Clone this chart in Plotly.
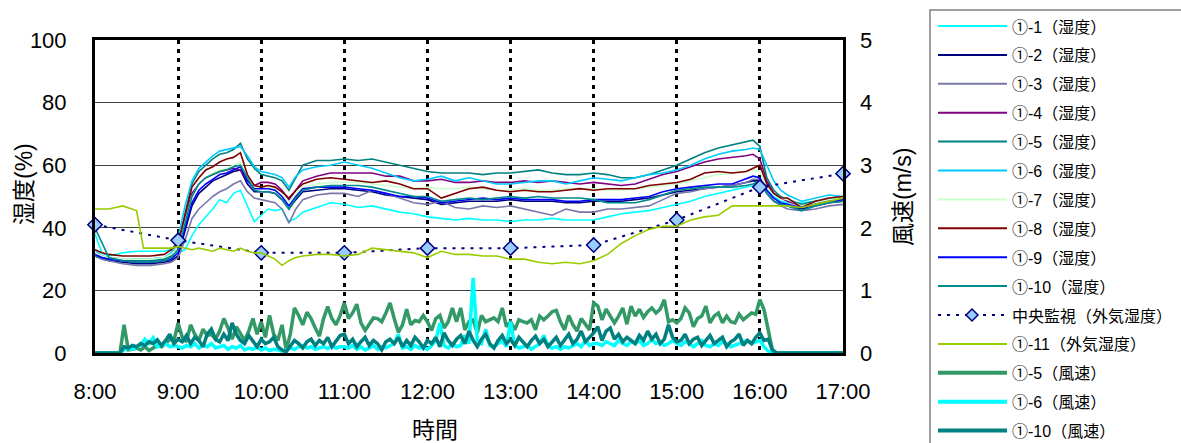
import plotly.graph_objects as go

# ---------------------------------------------------------------- data
TIME = [
    "8:00", "8:05", "8:10", "8:20", "8:30", "8:35", "8:40", "8:50", "8:55",
    "9:00", "9:05", "9:10", "9:15", "9:20", "9:25", "9:30", "9:35", "9:40", "9:45", "9:50", "9:55",
    "10:00", "10:05", "10:10", "10:15", "10:20", "10:25", "10:30", "10:40", "10:50",
    "11:00", "11:10", "11:20", "11:30", "11:40", "11:50",
    "12:00", "12:10", "12:20", "12:30", "12:40", "12:50",
    "13:00", "13:10", "13:20", "13:30", "13:40", "13:50",
    "14:00", "14:10", "14:20", "14:30", "14:40", "14:50",
    "15:00", "15:10", "15:20", "15:30", "15:40", "15:50",
    "15:55", "16:00", "16:05", "16:10", "16:15", "16:20", "16:30", "16:40", "16:50", "17:00",
]

H_1 = [38, 32, 31, 32, 32.5, 32.5, 32.5, 32.5, 33,
       32, 33, 37.5, 41, 43.5, 46, 49, 48, 51, 52, 47, 42,
       44, 46, 45.5, 46, 42, 43, 45, 46.5, 48,
       47.5, 46.5, 47, 46, 45, 44.5,
       43.5, 43, 42.5, 43, 42.5, 42.5,
       42, 42.5, 42.5, 43, 42.5, 42.5,
       42.5, 43.5, 44.5, 45, 45.5, 46.5,
       47.5, 48.5, 50, 51, 52, 53,
       53.5, 54, 52.5, 50, 48.5, 48, 48, 48.5, 49.5, 50]
H_2 = [31, 30, 29.5, 29, 28.5, 28.5, 28.5, 29, 29.5,
       31, 39, 47, 51, 53, 55, 56, 57, 58, 58.5, 54, 51.5,
       51.5, 51.5, 51, 49, 46, 49, 51.5, 52, 52.5,
       52.5, 52, 51.5, 50.5, 50, 49.5,
       49, 47.5, 48, 48.5, 48.5, 48.5,
       49, 48.5, 48.5, 48.5, 48, 48,
       48.5, 48.5, 48.5, 49, 49.5, 50.5,
       51.5, 52, 52.5, 53, 53.5, 54.5,
       55, 55, 51, 48.5, 47.5, 47, 46, 47, 48, 48.5]
H_3 = [31, 30, 29.5, 28.5, 28, 28, 28, 28.5, 29,
       30.5, 36, 43, 46, 48, 50, 51.5, 52.5, 54, 55, 51.5, 49.5,
       49, 48.5, 48, 46, 41.5, 46, 49, 50.5, 51,
       51, 50, 52, 51, 49.5, 48,
       47.5, 48.5, 46.5, 46, 47, 46.5,
       47, 46, 45, 44, 46, 45,
       45, 46, 46, 46.5, 47, 49,
       51, 51.5, 52.5, 53, 53.5, 54.5,
       55.5, 55.5, 51, 48.5, 47, 46, 45.5, 46, 47, 47.5]
H_4 = [32, 31, 30.5, 30, 30, 30, 30, 30.5, 31.5,
       34, 43, 51, 54, 56, 57, 58, 58.5, 59, 58.5, 55, 53.5,
       54.5, 54.5, 54, 52, 49, 52, 55, 56.5, 57.5,
       57.5, 57.5, 57.5, 56.5, 56.5, 55,
       55, 55.5, 54.5, 54.5, 55, 54.5,
       54.5, 55, 54.5, 55, 54.5, 54,
       54.5, 54, 53.5, 54, 55.5, 57,
       58, 59.5, 61, 62, 62.5, 63,
       63.5, 62, 55, 51, 49.5, 48.5, 47, 48, 48.5, 49]
H_5 = [31, 30.5, 30, 29.5, 29.5, 29.5, 29.5, 30, 31,
       35, 45, 54, 58, 60, 62, 63.5, 64, 65, 67, 62, 59,
       57, 56.5, 56, 55, 52, 56, 60, 61.5, 61.5,
       62, 61.5, 62, 61, 60, 59,
       58, 57.5, 57.5, 57.5, 57, 57.5,
       57.5, 58, 58.5, 57.5, 57, 57,
       57.5, 57, 56, 56, 57, 58.5,
       60, 62, 64, 65.5, 66.5, 67.5,
       68, 66, 56, 52, 50, 49, 47.5, 48.5, 49, 49.5]
H_6 = [33, 31, 30, 30, 30, 30, 30, 30.5, 32,
       37, 47, 55, 59, 61, 63, 64.5, 65, 65.5, 66, 63, 59.5,
       58, 57.5, 57, 56, 53, 56.5, 58.5, 59.5, 60,
       61, 60, 59, 57.5, 56, 55,
       55.5, 56.5, 55, 56, 55, 54,
       54, 54.5, 55, 55, 54, 55,
       56, 55.5, 55, 56, 57, 57.5,
       58.5, 60, 62, 63.5, 64.5, 65,
       65.5, 65, 60, 55, 52, 50.5, 48.5, 49.5, 50.5, 50]
H_7 = [32, 31, 30.5, 30, 30, 30, 30, 30.5, 31.5,
       34, 42, 50, 54, 56, 57.5, 58.5, 59, 60, 61, 56, 53,
       52.5, 53, 52.5, 51, 48, 51, 53, 54, 54.5,
       54.5, 54.5, 54, 53.5, 53, 52.5,
       53, 52.5, 52.5, 53, 52.5, 52,
       52, 52.5, 52, 52, 52.5, 52.5,
       52.5, 52, 52, 52.5, 53, 53.5,
       54, 55, 56, 57, 57.5, 58,
       58.5, 58, 53, 50.5, 49.5, 49, 47, 48, 49, 49.5]
H_8 = [33, 32, 31.5, 31, 31, 31, 31, 31.5, 33,
       35, 44, 53, 56, 58.5, 59.5, 61, 62, 62.5, 64, 57, 53.5,
       53, 53.5, 53, 51.5, 49.5, 52, 54, 55.5, 56,
       55.5, 55, 54.5, 55, 54, 52.5,
       52.5, 49.5, 51, 52.5, 53, 52,
       51.5, 52, 51.5, 51.5, 52, 52.5,
       52, 52.5, 52.5, 52.5, 53.5, 54,
       54.5, 55.5, 57.5, 58, 57.5, 58,
       59, 60, 54, 51, 49.5, 49.5, 46.5, 48.5, 49.5, 50]
H_9 = [31.5, 30.5, 30, 29.5, 29, 29, 29, 29.5, 30,
       32, 40, 48, 52, 54, 55.5, 57, 57.5, 58.5, 59.5, 55, 52.5,
       52.5, 52.5, 52, 50, 47, 50, 52.5, 53, 53,
       53, 52.5, 52, 51, 50, 50,
       49.5, 48, 48.5, 49, 49.5, 49,
       49.5, 49, 49, 49, 48.5, 48.5,
       49, 49, 49, 49.5, 50, 51.5,
       52.5, 53, 53.5, 54, 54, 55.5,
       56.5, 56, 52, 49.5, 48, 47.5, 46.5, 47.5, 48.5, 49]
H_10 = [40, 35, 30.5, 29.5, 29, 29, 29, 29.5, 30.5,
        33, 42, 50, 54, 56, 57, 58, 58.5, 59.5, 60, 56, 52,
        51.5, 51.5, 51, 49, 46, 49.5, 52, 53, 53.5,
        53.5, 53.5, 53, 52, 51, 50,
        50, 48.5, 49, 49.5, 49, 49.5,
        50, 49.5, 50, 49.5, 49.5, 49.5,
        49, 48, 48, 48, 49, 50.5,
        52, 52.5, 53, 53, 53, 53.5,
        54, 55, 51, 48.5, 47.5, 47, 45.5, 47, 48, 48.5]
H_11_OUTDOOR = [46, 46, 46, 47, 45.5, 33.5, 33.5, 33.5, 33.5,
                34, 33.5, 33, 33.5, 33, 32.5, 33.5, 33, 32.5, 33.5, 32.5, 32,
                32, 31, 30, 28, 29.5, 30.5, 31, 31.5, 31.5,
                31, 31.5, 33.5, 33, 32.5, 32,
                30.5, 32.5, 31.5, 31.5, 31, 31,
                30, 30, 29, 28.5, 29, 28.5,
                29.5, 31.5, 35, 37.5, 39.5, 40.5,
                40.5, 42.5, 43.5, 44, 47, 47,
                47, 47, 47, 47, 47, 47, 46.5, 47.5, 48.5, 49.5]

CENTRAL_TIME = ["8:00", "9:00", "10:00", "11:00", "12:00", "13:00", "14:00", "15:00", "16:00", "17:00"]
CENTRAL_OUTDOOR = [41, 36, 32, 32, 33.5, 33.5, 34.5, 42.5, 53, 57.3]

# wind speed logged every 3 minutes from 8:00
WIND_STEP_MIN = 3
W_5 = [0, 0, 0, 0, 0, 0, 0,
       0.45, 0.05, 0.06, 0.08, 0.05, 0.1, 0.04, 0.08, 0.12, 0.1,
       0.15, 0.22, 0.2, 0.48, 0.25, 0.18, 0.45, 0.3, 0.2, 0.38,
       0.28, 0.3, 0.22, 0.35, 0.55, 0.4, 0.22, 0.42, 0.3, 0.2,
       0.35, 0.55, 0.3, 0.5, 0.25, 0.6, 0.3, 0.2, 0.45, 0.05,
       0.3, 0.72, 0.6, 0.45, 0.65, 0.55, 0.4, 0.27, 0.55, 0.74,
       0.55, 0.45, 0.6,
       0.8, 0.55, 0.64, 0.78, 0.48, 0.36, 0.45, 0.56, 0.55, 0.5,
       0.64, 0.8, 0.55, 0.33, 0.45, 0.7, 0.45, 0.52, 0.5, 0.6,
       0.5, 0.36, 0.55, 0.6, 0.4, 0.5, 0.72, 0.5, 0.72, 0.37,
       0.5, 0.53, 0.32, 0.6, 0.5, 0.53, 0.56, 0.5, 0.72, 0.42,
       0.5, 0.37, 0.53, 0.5, 0.48, 0.53, 0.37, 0.59, 0.53, 0.59,
       0.66, 0.68, 0.5, 0.37, 0.6, 0.45, 0.35, 0.55, 0.45, 0.37,
       0.8,
       0.75, 0.53, 0.7, 0.59, 0.48, 0.59, 0.72, 0.46, 0.75, 0.59,
       0.7, 0.57, 0.66, 0.72, 0.64, 0.7, 0.85, 0.5, 0.53, 0.48,
       0.55, 0.72, 0.64, 0.42, 0.55, 0.59, 0.75, 0.48, 0.59, 0.64,
       0.48, 0.59, 0.5, 0.48, 0.62, 0.53, 0.59, 0.64, 0.62, 0.85,
       0.69, 0.4, 0.05, 0,
       0, 0, 0, 0, 0, 0, 0, 0, 0, 0, 0, 0, 0, 0, 0, 0]
W_6 = [0, 0, 0, 0, 0, 0, 0,
       0.05, 0.08, 0.06, 0.1, 0.12, 0.22, 0.15, 0.24, 0.1, 0.12,
       0.15, 0.1, 0.12, 0.1, 0.08, 0.12, 0.1, 0.15, 0.08, 0.12,
       0.1, 0.15, 0.08, 0.1, 0.12, 0.06, 0.1, 0.08, 0.12, 0.05,
       0.08, 0.06, 0.1, 0.05, 0.08, 0.04, 0.06, 0.05, 0.03, 0.05,
       0.08, 0.06, 0.1, 0.12, 0.08, 0.1, 0.06, 0.08, 0.1, 0.07,
       0.12, 0.08, 0.1,
       0.1, 0.08, 0.12, 0.06, 0.1, 0.05, 0.08, 0.12, 0.06, 0.1,
       0.08, 0.12, 0.15, 0.3, 0.08, 0.1, 0.06, 0.12, 0.08, 0.1,
       0.06, 0.12, 0.2, 0.48, 0.12, 0.08, 0.15, 0.1, 0.12, 0.28,
       0.15, 1.2, 0.2, 0.15, 0.38, 0.12, 0.1, 0.15, 0.2, 0.1,
       0.5, 0.12, 0.08, 0.1, 0.12, 0.06, 0.1, 0.15, 0.28, 0.12,
       0.08, 0.1, 0.06, 0.1, 0.08, 0.12, 0.15, 0.1, 0.2, 0.12,
       0.15,
       0.15, 0.12, 0.18, 0.15, 0.12, 0.2, 0.15, 0.12, 0.18, 0.15,
       0.2, 0.12, 0.15, 0.22, 0.15, 0.18, 0.12, 0.15, 0.2, 0.15,
       0.12, 0.18, 0.15, 0.1, 0.15, 0.2, 0.12, 0.1, 0.15, 0.12,
       0.18, 0.15, 0.1, 0.12, 0.15, 0.18, 0.2, 0.15, 0.18, 0.2,
       0.1, 0.03, 0, 0,
       0, 0, 0, 0, 0, 0, 0, 0, 0, 0, 0, 0, 0, 0, 0, 0]
W_10 = [0, 0, 0, 0, 0, 0, 0,
        0.1, 0.08, 0.12, 0.1, 0.15, 0.12, 0.18, 0.15, 0.21, 0.12,
        0.2, 0.3, 0.15, 0.22, 0.18, 0.28, 0.15, 0.25, 0.2, 0.1,
        0.3, 0.38, 0.22, 0.18, 0.3, 0.2, 0.48, 0.3, 0.2, 0.15,
        0.28, 0.2, 0.1, 0.22, 0.15, 0.18, 0.25, 0.1, 0.05, 0.02,
        0.12, 0.2, 0.15, 0.08, 0.18, 0.22, 0.12, 0.2, 0.15, 0.25,
        0.1, 0.18, 0.28,
        0.3, 0.15, 0.22, 0.1, 0.18, 0.25, 0.12, 0.2, 0.15, 0.05,
        0.18, 0.22, 0.15, 0.25, 0.1, 0.2, 0.12, 0.25, 0.18, 0.08,
        0.2, 0.15, 0.25, 0.1, 0.32, 0.2, 0.12, 0.22, 0.28, 0.15,
        0.35, 0.2, 0.1, 0.22, 0.3, 0.15, 0.08, 0.2, 0.28, 0.15,
        0.22, 0.12, 0.25, 0.18, 0.1, 0.2, 0.27, 0.15, 0.22, 0.1,
        0.18, 0.25, 0.12, 0.2, 0.3, 0.15, 0.22, 0.35, 0.18, 0.25,
        0.32,
        0.42, 0.2, 0.35, 0.4, 0.22, 0.3, 0.18, 0.25, 0.2, 0.15,
        0.28, 0.2, 0.35, 0.22, 0.3, 0.15, 0.22, 0.45, 0.25, 0.18,
        0.2, 0.3, 0.15, 0.22, 0.25, 0.12, 0.2, 0.28, 0.15, 0.2,
        0.25, 0.1, 0.18, 0.22, 0.3, 0.12, 0.2, 0.15, 0.25, 0.32,
        0.2, 0.22, 0.05, 0,
        0, 0, 0, 0, 0, 0, 0, 0, 0, 0, 0, 0, 0, 0, 0, 0]

X_TICKS = ["8:00", "9:00", "10:00", "11:00", "12:00", "13:00", "14:00", "15:00", "16:00", "17:00"]

LABELS_HUMIDITY = ["①-1（湿度）", "①-2（湿度）", "①-3（湿度）", "①-4（湿度）", "①-5（湿度）",
                   "①-6（湿度）", "①-7（湿度）", "①-8（湿度）", "①-9（湿度）", "①-10（湿度）"]
LABEL_CENTRAL = "中央監視（外気湿度）"
LABEL_OUTDOOR = "①-11（外気湿度）"
LABELS_WIND = ["①-5（風速）", "①-6（風速）", "①-10（風速）"]

# ---------------------------------------------------------------- styling
FONT = "Arial, 'Liberation Sans', 'Noto Sans CJK JP', sans-serif"
HUM_COLORS = ["#00FFFF", "#000080", "#7777AA", "#800080", "#008080",
              "#00CCFF", "#CCFFCC", "#800000", "#0000FF", "#008B8B"]
OUTDOOR_COLOR = "#99CC00"
CENTRAL_COLOR = "#000080"
CENTRAL_FILL = "#99CCFF"
WIND_COLORS = ["#339966", "#00FFFF", "#008080"]

W_FIG, H_FIG = 1181, 443
M_L, M_R, M_T, M_B = 95, 338, 40, 90
PW = W_FIG - M_L - M_R
PH = H_FIG - M_T - M_B


def hours(label):
    h, m = label.split(":")
    return int(h) + int(m) / 60


def px_x(px):
    return (px - M_L) / PW


def px_y(py):
    return (M_T + PH - py) / PH


hx = [hours(t) for t in TIME]
fig = go.Figure()

for name, vals, color in zip(LABELS_HUMIDITY,
                             [H_1, H_2, H_3, H_4, H_5, H_6, H_7, H_8, H_9, H_10],
                             HUM_COLORS):
    fig.add_trace(go.Scatter(x=hx, y=vals, name=name, mode="lines",
                             line=dict(color=color, width=1.6)))

fig.add_trace(go.Scatter(
    x=[hours(t) for t in CENTRAL_TIME], y=CENTRAL_OUTDOOR, name=LABEL_CENTRAL,
    mode="lines+markers", cliponaxis=False,
    line=dict(color=CENTRAL_COLOR, width=2, dash="3px,6px"),
    marker=dict(symbol="diamond", size=11, color=CENTRAL_FILL,
                line=dict(color=CENTRAL_COLOR, width=1.5))))

fig.add_trace(go.Scatter(x=hx, y=H_11_OUTDOOR, name=LABEL_OUTDOOR, mode="lines",
                         line=dict(color=OUTDOOR_COLOR, width=1.6)))

for name, vals, color in zip(LABELS_WIND, [W_5, W_6, W_10], WIND_COLORS):
    wx = [8 + i * WIND_STEP_MIN / 60 for i in range(len(vals))]
    fig.add_trace(go.Scatter(x=wx, y=vals, name=name, mode="lines", yaxis="y2",
                             line=dict(color=color, width=3.5)))

# ---------------------------------------------------------------- hand-drawn legend box
shapes = [dict(type="rect", xref="paper", yref="paper",
               x0=px_x(930), x1=px_x(1190), y0=px_y(460), y1=px_y(10),
               line=dict(color="#808080", width=1.5), fillcolor="white", layer="below")]
annotations = []

legend_items = []
for name, color in zip(LABELS_HUMIDITY, HUM_COLORS):
    legend_items.append((name, color, 2, None))
legend_items.append((LABEL_CENTRAL, CENTRAL_COLOR, 2, "diamond"))
legend_items.append((LABEL_OUTDOOR, OUTDOOR_COLOR, 2, None))
for name, color in zip(LABELS_WIND, WIND_COLORS):
    legend_items.append((name, color, 4, None))

for i, (name, color, width, marker) in enumerate(legend_items):
    py = 26 + 28.9 * i
    if marker:
        shapes.append(dict(type="line", xref="paper", yref="paper",
                           x0=px_x(938), x1=px_x(1007), y0=px_y(py), y1=px_y(py),
                           line=dict(color=color, width=width, dash="3px,6px")))
        cx, r = 972, 6
        path = (f"M{px_x(cx - r)},{px_y(py)} L{px_x(cx)},{px_y(py - r)} "
                f"L{px_x(cx + r)},{px_y(py)} L{px_x(cx)},{px_y(py + r)} Z")
        shapes.append(dict(type="path", xref="paper", yref="paper", path=path,
                           fillcolor=CENTRAL_FILL, line=dict(color=color, width=1.5)))
    else:
        shapes.append(dict(type="line", xref="paper", yref="paper",
                           x0=px_x(938), x1=px_x(1007), y0=px_y(py), y1=px_y(py),
                           line=dict(color=color, width=width)))
    annotations.append(dict(text=name, xref="paper", yref="paper",
                            x=px_x(1010), y=px_y(py + 1), xanchor="left", yanchor="middle",
                            showarrow=False, font=dict(family=FONT, size=16, color="black")))

# axis titles
annotations.append(dict(text="湿度(%)", xref="paper", yref="paper", x=px_x(24), y=px_y(184),
                        textangle=-90, showarrow=False, xanchor="center", yanchor="middle",
                        font=dict(family=FONT, size=23, color="black")))
annotations.append(dict(text="風速(m/s)", xref="paper", yref="paper", x=px_x(903), y=px_y(197),
                        textangle=-90, showarrow=False, xanchor="center", yanchor="middle",
                        font=dict(family=FONT, size=23, color="black")))
annotations.append(dict(text="時間", xref="paper", yref="paper", x=px_x(435), y=px_y(430),
                        showarrow=False, xanchor="center", yanchor="middle",
                        font=dict(family=FONT, size=23, color="black")))

tick_font = dict(family=FONT, size=22, color="black")
fig.update_layout(
    width=W_FIG, height=H_FIG,
    margin=dict(l=M_L, r=M_R, t=M_T, b=M_B),
    paper_bgcolor="white", plot_bgcolor="white",
    showlegend=False,
    shapes=shapes, annotations=annotations,
    xaxis=dict(range=[8, 17], tickvals=[hours(t) for t in X_TICKS], ticktext=X_TICKS,
               showgrid=True, gridcolor="black", gridwidth=3, griddash="4px,5px",
               showline=True, linecolor="black", linewidth=3, mirror=True,
               ticks="", tickfont=tick_font, ticklabelstandoff=17, zeroline=False),
    yaxis=dict(range=[0, 100], dtick=20, showgrid=True, gridcolor="#404040", gridwidth=1,
               showline=True, linecolor="black", linewidth=3, mirror=True,
               ticks="", tickfont=tick_font, ticklabelstandoff=21, zeroline=False),
    yaxis2=dict(range=[0, 5], dtick=1, overlaying="y", side="right", showgrid=False,
                showline=False, ticks="", tickfont=tick_font, ticklabelstandoff=16,
                zeroline=False),
)

fig.write_html("out.html")
